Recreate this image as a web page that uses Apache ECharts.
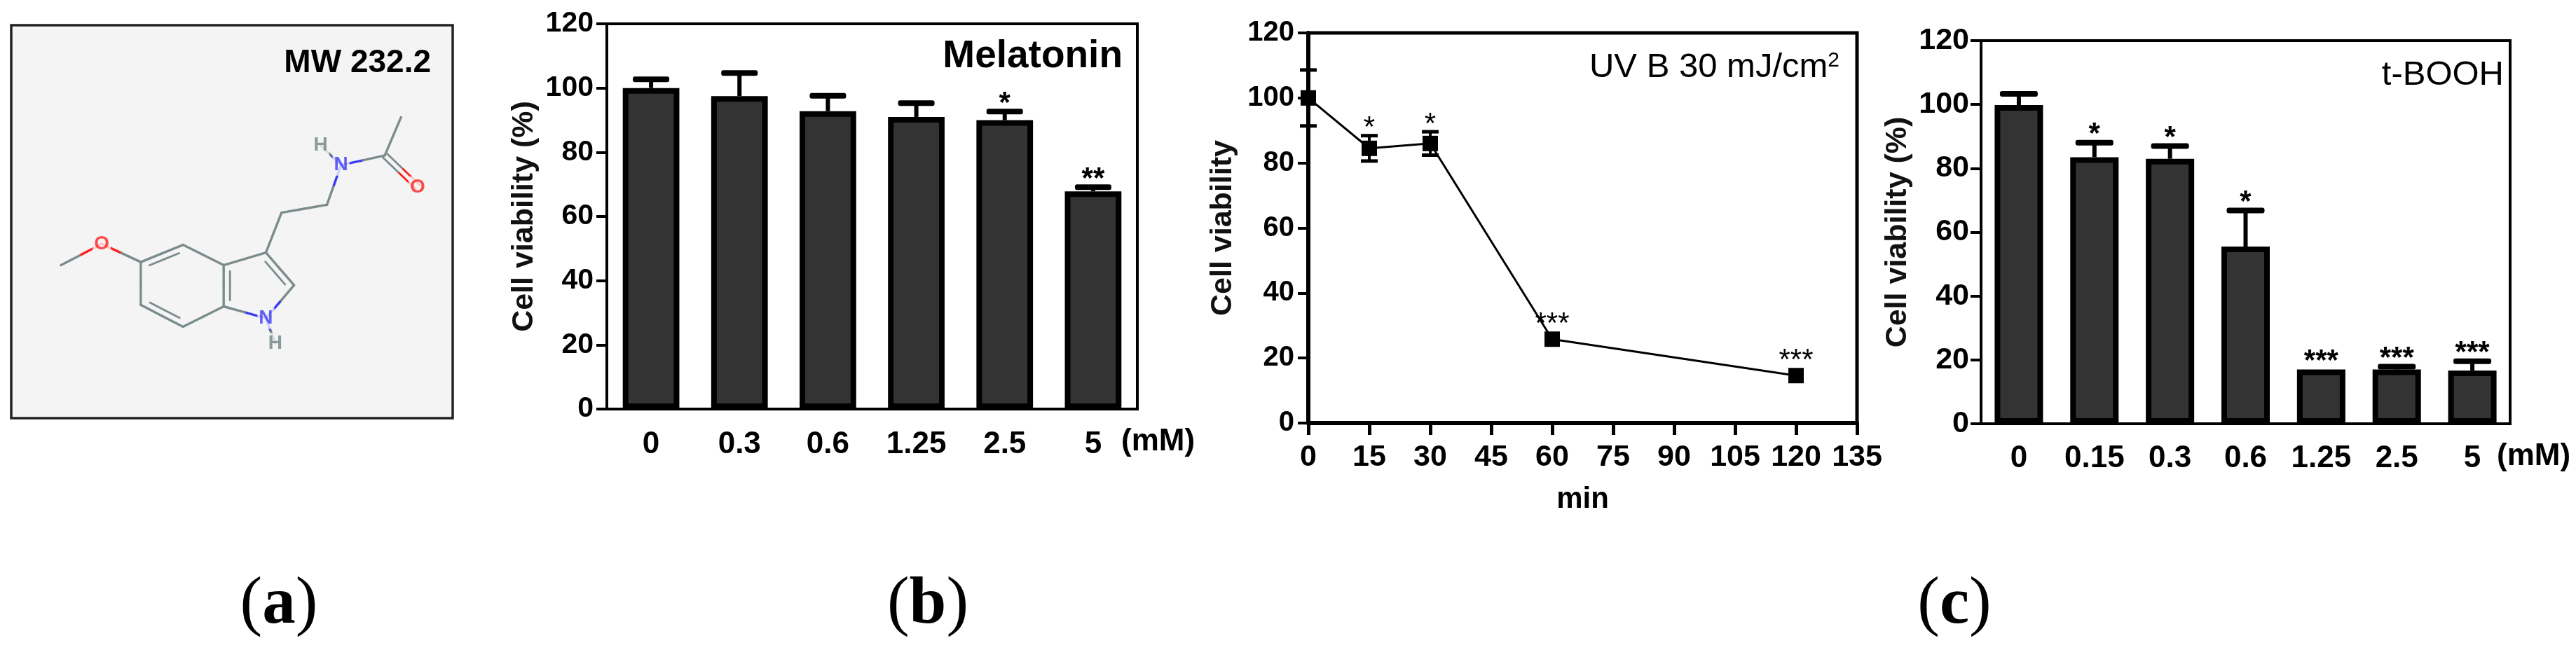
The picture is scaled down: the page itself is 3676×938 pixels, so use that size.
<!DOCTYPE html>
<html>
<head>
<meta charset="utf-8">
<script src="https://cdn.jsdelivr.net/npm/echarts@6/dist/echarts.min.js"></script>
<style>
  html, body { margin: 0; padding: 0; background: #fff; }
  #main { width: 3676px; height: 938px; }
</style>
</head>
<body>
<div id="main"></div>
<script>
// (b) melatonin alone, 24 h
var MEL_DOSES = ['0', '0.3', '0.6', '1.25', '2.5', '5'];
var MEL_VIAB = [100, 97.5, 92.8, 91, 90, 67.8];
var MEL_ERR = [2.7, 7.2, 4.8, 4.3, 2.7, 1.3];
var MEL_SIG = ['', '', '', '', '*', '**'];

// (b) UVB 30 mJ/cm2, time course
var UVB_MIN = [0, 15, 30, 60, 120];
var UVB_VIAB = [100, 84.5, 86, 25.8, 14.6];
var UVB_ERR = [8.6, 3.9, 3.6, 0, 0];
var UVB_SIG = ['', '*', '*', '***', '***'];

// (c) t-BOOH
var TB_DOSES = ['0', '0.15', '0.3', '0.6', '1.25', '2.5', '5'];
var TB_VIAB = [99.8, 83.5, 83, 55.5, 17, 17, 16.7];
var TB_ERR = [3.5, 4.5, 4, 11.3, 0, 0.9, 2.9];
var TB_SIG = ['', '*', '*', '*', '***', '***', '***'];

var DOSE_UNIT = '(mM)';

// (a) melatonin structure, atom positions in drawing units
var MOL_EL = ['C', 'O', 'C', 'C', 'C', 'C', 'C', 'C', 'C', 'C', 'N', 'H', 'C', 'C', 'N', 'H', 'C', 'O', 'C'];
var MOL_X = [195, 325, 450, 585, 715, 715, 585, 450, 850, 940, 850, 880, 900, 1045, 1090, 1025, 1230, 1335, 1282];
var MOL_Y = [848, 780, 838, 783, 848, 980, 1045, 975, 808, 912, 1018, 1098, 680, 655, 528, 465, 497, 598, 375];
var BOND_A = [0, 1, 2, 3, 4, 5, 6, 7, 4, 8, 9, 10, 10, 8, 12, 13, 14, 14, 16, 16];
var BOND_B = [1, 2, 3, 4, 5, 6, 7, 2, 8, 9, 10, 5, 11, 12, 13, 14, 15, 16, 17, 18];
var BOND_ORDER = [1, 1, 2, 1, 2, 1, 2, 1, 1, 2, 1, 1, 1, 1, 1, 1, 1, 1, 2, 1];
var BOND_SIDE = [0, 0, 1, 0, -1, 0, 1, 0, 0, 1, 0, 0, 0, 0, 0, 0, 0, 0, 0, 0];

var ATOM_COLOR = { C: '#7b8c8c', H: '#6f8282', N: '#3a3af5', O: '#ff1f1f' };
var NARROW = "'Liberation Sans Narrow', 'Arial Narrow', 'Liberation Sans', sans-serif";
var SANS = "'Liberation Sans', Arial, sans-serif";
var SERIF = "'Liberation Serif', serif";

var chart = echarts.init(document.getElementById('main'));

// 柱状图上方的误差线 + 显著性星号
function barErrors(errs, sigs, capW) {
    return function (params, api) {
        var i = params.dataIndex;
        var v = api.value(1);
        var base = api.coord([api.value(0), v]);
        var top = api.coord([api.value(0), v + errs[i]]);
        var kids = [];
        if (errs[i] > 0) {
            kids.push({ type: 'line', shape: { x1: base[0], y1: base[1], x2: top[0], y2: top[1] },
                style: { stroke: '#000', lineWidth: 6 } });
            kids.push({ type: 'rect', shape: { x: top[0] - capW / 2, y: top[1] - 4, width: capW, height: 8, r: 3 },
                style: { fill: '#000' } });
        }
        if (sigs[i]) {
            kids.push({ type: 'text', x: top[0], y: top[1] - 11,
                style: { text: sigs[i], fill: '#000', fontSize: 42, fontWeight: 'bold', fontFamily: SANS,
                    align: 'center', verticalAlign: 'middle' } });
        }
        return { type: 'group', children: kids };
    };
}

// 折线图的双向误差线
function lineErrors(params, api) {
    var i = params.dataIndex;
    var x = api.value(0), v = api.value(1);
    var hi = api.coord([x, v + UVB_ERR[i]]);
    var lo = api.coord([x, v - UVB_ERR[i]]);
    var c = api.coord([x, v]);
    var kids = [];
    if (UVB_ERR[i] > 0) {
        kids.push({ type: 'line', shape: { x1: lo[0], y1: lo[1], x2: hi[0], y2: hi[1] }, style: { stroke: '#000', lineWidth: 4 } });
        kids.push({ type: 'line', shape: { x1: hi[0] - 12, y1: hi[1], x2: hi[0] + 12, y2: hi[1] }, style: { stroke: '#000', lineWidth: 5 } });
        kids.push({ type: 'line', shape: { x1: lo[0] - 12, y1: lo[1], x2: lo[0] + 12, y2: lo[1] }, style: { stroke: '#000', lineWidth: 5 } });
    }
    if (UVB_SIG[i]) {
        var topY = Math.min(hi[1], c[1] - 11);
        kids.push({ type: 'text', x: c[0], y: topY - 10,
            style: { text: UVB_SIG[i], fill: '#000', fontSize: 42, fontFamily: SANS,
                align: 'center', verticalAlign: 'middle' } });
    }
    return { type: 'group', children: kids };
}

// 分子结构的化学键
function renderBond(params, api) {
    var k = params.dataIndex;
    var p = api.coord([api.value(0), api.value(1)]);
    var q = api.coord([api.value(2), api.value(3)]);
    var ca = ATOM_COLOR[MOL_EL[BOND_A[k]]], cb = ATOM_COLOR[MOL_EL[BOND_B[k]]];
    var dx = q[0] - p[0], dy = q[1] - p[1];
    var len = Math.sqrt(dx * dx + dy * dy);
    var nx = -dy / len, ny = dx / len;
    var kids = [];
    function seg(a, b, col, w) {
        kids.push({ type: 'line', shape: { x1: a[0], y1: a[1], x2: b[0], y2: b[1] },
            style: { stroke: col, lineWidth: w, lineCap: 'round' } });
    }
    function split(a, b, w) {
        var m = [(a[0] + b[0]) / 2, (a[1] + b[1]) / 2];
        seg(a, m, ca, w);
        seg(m, b, cb, w);
    }
    if (BOND_ORDER[k] === 2 && BOND_SIDE[k] === 0) {
        split([p[0] + nx * 4, p[1] + ny * 4], [q[0] + nx * 4, q[1] + ny * 4], 2.8);
        split([p[0] - nx * 4, p[1] - ny * 4], [q[0] - nx * 4, q[1] - ny * 4], 2.8);
    } else {
        split(p, q, 3.4);
        if (BOND_ORDER[k] === 2) {
            var off = 9 * BOND_SIDE[k], t = 0.15;
            split([p[0] + dx * t + nx * off, p[1] + dy * t + ny * off],
                  [q[0] - dx * t + nx * off, q[1] - dy * t + ny * off], 2.8);
        }
    }
    return { type: 'group', children: kids };
}

function yAxisCfg(grid, labelSize, margin, nameGap, name, lineW) {
    return {
        type: 'value', gridIndex: grid, min: 0, max: 120, interval: 20,
        splitLine: { show: false },
        axisLine: { show: true, lineStyle: { color: '#000', width: lineW } },
        axisTick: { show: true, length: 15, lineStyle: { color: '#000', width: 4 } },
        axisLabel: { margin: margin, fontSize: labelSize, fontWeight: 'bold', fontFamily: NARROW, color: '#000' },
        name: name, nameLocation: 'middle', nameGap: nameGap, nameRotate: 90,
        nameTextStyle: { fontSize: 43, fontWeight: 'bold', fontFamily: SANS, color: '#111' }
    };
}

function catAxisCfg(grid, cats, margin) {
    return {
        type: 'category', gridIndex: grid, data: cats,
        axisLine: { lineStyle: { color: '#000', width: 4 } },
        axisTick: { alignWithLabel: true, length: 16, lineStyle: { color: '#000', width: 4 } },
        axisLabel: { interval: 0, margin: margin, fontSize: 44, fontWeight: 'bold', fontFamily: NARROW, color: '#000' }
    };
}

function unitText(x, y) {
    return { type: 'text', z: 5, x: x, y: y,
        style: { text: DOSE_UNIT, fill: '#000', fontSize: 44, fontWeight: 'bold', fontFamily: NARROW,
                 align: 'left', verticalAlign: 'middle' } };
}

function panelTag(letter, x) {
    return { type: 'text', z: 5, x: x, y: 864,
        style: { text: '{p|(}{l|' + letter + '}{p|)}', fill: '#000', align: 'center', verticalAlign: 'middle',
                 rich: { p: { fontSize: 95, fontFamily: SERIF }, l: { fontSize: 95, fontWeight: 'bold', fontFamily: SERIF } } } };
}

var heteroAtoms = [];
MOL_EL.forEach(function (el, i) {
    if (el !== 'C') {
        heteroAtoms.push({ value: [MOL_X[i], MOL_Y[i]], label: { formatter: el, color: ATOM_COLOR[el] } });
    }
});

var option = {
    animation: false,
    backgroundColor: '#fff',
    grid: [
        { left: 866, top: 34, width: 757, height: 550, show: true, borderColor: '#000', borderWidth: 4 },
        { left: 1867, top: 47, width: 783, height: 557, show: true, borderColor: '#000', borderWidth: 5 },
        { left: 2827, top: 58, width: 755, height: 547, show: true, borderColor: '#000', borderWidth: 4 },
        { left: 0, top: 0, width: 700, height: 700, show: false }
    ],
    xAxis: [
        catAxisCfg(0, MEL_DOSES, 29),
        {
            type: 'value', gridIndex: 1, min: 0, max: 135, interval: 15,
            splitLine: { show: false },
            axisLine: { onZero: false, lineStyle: { color: '#000', width: 6 } },
            axisTick: { length: 17, lineStyle: { color: '#000', width: 5 } },
            axisLabel: { margin: 28, fontSize: 43, fontWeight: 'bold', fontFamily: NARROW, color: '#000' },
            name: 'min', nameLocation: 'middle', nameGap: 88,
            nameTextStyle: { fontSize: 42, fontWeight: 'bold', fontFamily: SANS, color: '#000' }
        },
        catAxisCfg(2, TB_DOSES, 28),
        { type: 'value', gridIndex: 3, min: 0, max: 1568, show: false }
    ],
    yAxis: [
        yAxisCfg(0, 41, 19, 96, 'Cell viability (%)', 4),
        yAxisCfg(1, 40, 20, 100, 'Cell viability', 6),
        yAxisCfg(2, 43, 17, 97, 'Cell viability (%)', 4),
        { type: 'value', gridIndex: 3, min: 0, max: 1568, inverse: true, show: false }
    ],
    series: [
        {
            type: 'bar', xAxisIndex: 0, yAxisIndex: 0, data: MEL_VIAB, barWidth: '64%',
            itemStyle: { color: '#333333', borderColor: '#000', borderWidth: 8 }
        },
        {
            type: 'custom', xAxisIndex: 0, yAxisIndex: 0, z: 3,
            data: MEL_VIAB.map(function (v, i) { return [i, v]; }),
            renderItem: barErrors(MEL_ERR, MEL_SIG, 52)
        },
        {
            type: 'custom', xAxisIndex: 1, yAxisIndex: 1, z: 3,
            data: UVB_MIN.map(function (m, i) { return [m, UVB_VIAB[i]]; }),
            renderItem: lineErrors
        },
        {
            type: 'line', xAxisIndex: 1, yAxisIndex: 1, z: 4,
            data: UVB_MIN.map(function (m, i) { return [m, UVB_VIAB[i]]; }),
            symbol: 'rect', symbolSize: 22,
            lineStyle: { color: '#000', width: 3 },
            itemStyle: { color: '#000' }
        },
        {
            type: 'bar', xAxisIndex: 2, yAxisIndex: 2, data: TB_VIAB, barWidth: '64%',
            itemStyle: { color: '#333333', borderColor: '#000', borderWidth: 8 }
        },
        {
            type: 'custom', xAxisIndex: 2, yAxisIndex: 2, z: 3,
            data: TB_VIAB.map(function (v, i) { return [i, v]; }),
            renderItem: barErrors(TB_ERR, TB_SIG, 54)
        },
        {
            type: 'custom', xAxisIndex: 3, yAxisIndex: 3, z: 3,
            data: BOND_A.map(function (a, k) { return [MOL_X[a], MOL_Y[a], MOL_X[BOND_B[k]], MOL_Y[BOND_B[k]]]; }),
            encode: { x: [0, 2], y: [1, 3] },
            renderItem: renderBond
        },
        {
            type: 'scatter', xAxisIndex: 3, yAxisIndex: 3, z: 4,
            symbolSize: 1, itemStyle: { color: 'rgba(0,0,0,0)' },
            data: heteroAtoms,
            label: { show: true, position: 'inside', fontSize: 28, fontWeight: 'bold', fontFamily: SANS,
                backgroundColor: '#f5f4f4', padding: [1, 2] }
        }
    ],
    graphic: [
        { type: 'rect', z: 0, shape: { x: 16, y: 36, width: 630, height: 561 },
          style: { fill: '#f5f4f4', stroke: '#222', lineWidth: 3.5 } },
        { type: 'text', z: 5, x: 615, y: 67,
          style: { text: 'MW 232.2', fill: '#000', fontSize: 46, fontWeight: 'bold', fontFamily: SANS, align: 'right', verticalAlign: 'top' } },
        { type: 'text', z: 5, x: 1602, y: 53,
          style: { text: 'Melatonin', fill: '#000', fontSize: 55, fontWeight: 'bold', fontFamily: SANS, align: 'right', verticalAlign: 'top' } },
        { type: 'text', z: 5, x: 2625, y: 72,
          style: { text: 'UV B 30 mJ/cm{s|2}', fill: '#000', fontSize: 49, fontFamily: SANS, align: 'right', verticalAlign: 'top',
                   rich: { s: { fontSize: 30, fontFamily: SANS, verticalAlign: 'top' } } } },
        { type: 'text', z: 5, x: 3573, y: 83,
          style: { text: 't-BOOH', fill: '#000', fontSize: 49, fontFamily: SANS, align: 'right', verticalAlign: 'top' } },
        unitText(1600, 631),
        unitText(3563, 652),
        panelTag('a', 398),
        panelTag('b', 1324),
        panelTag('c', 2789)
    ]
};

chart.setOption(option);
</script>
</body>
</html>
